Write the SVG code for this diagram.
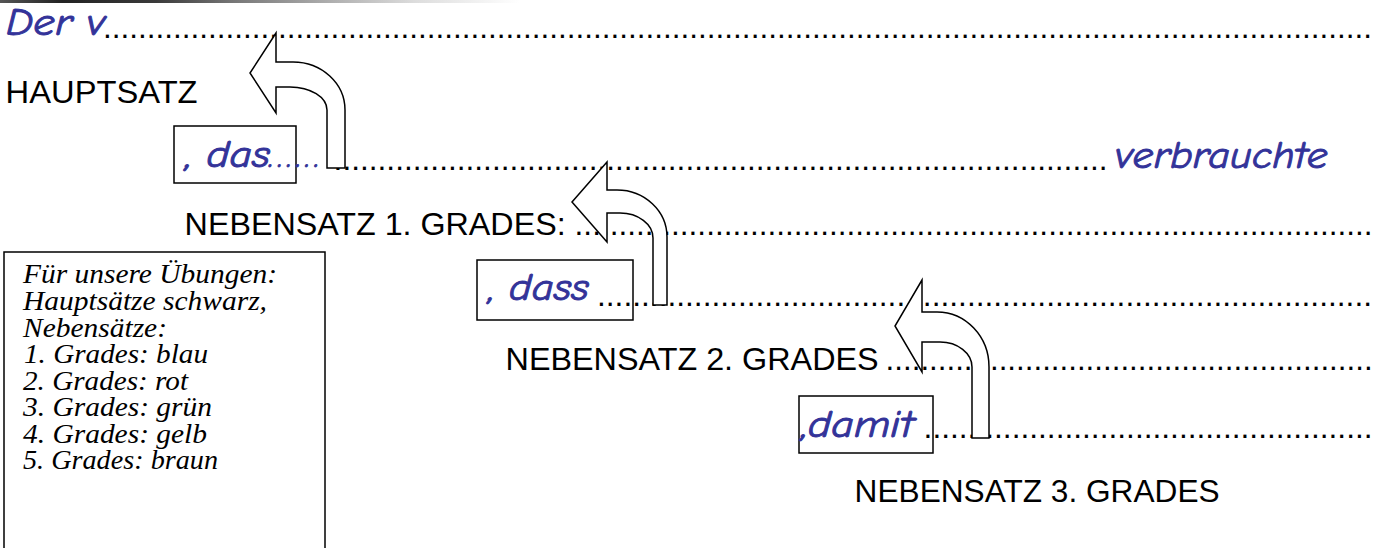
<svg xmlns="http://www.w3.org/2000/svg" width="1383" height="548" viewBox="0 0 1383 548">
<style>
.blue{font-family:"Comic Sans MS","Comic Neue","DejaVu Sans",sans-serif;font-style:italic;font-weight:400;fill:#333399;stroke:#333399;stroke-width:0.9;font-size:38px}
.lbl{font-family:"Liberation Sans",Arial,sans-serif;font-size:31.5px;fill:#000}
.dots{font-family:"Liberation Sans",Arial,sans-serif;font-size:31.5px;fill:#000}
.leg{font-family:"Liberation Serif","Times New Roman",serif;font-style:italic;font-size:26.5px;fill:#000}
.box{fill:none;stroke:#000;stroke-width:1.5}
.arrow{fill:#fff;stroke:#000;stroke-width:1.5;stroke-linejoin:miter}
</style>
<defs>
<linearGradient id="strip" x1="0" y1="0" x2="1" y2="0">
<stop offset="0" stop-color="#555"/>
<stop offset="0.12" stop-color="#222"/>
<stop offset="0.3" stop-color="#3a3a3a"/>
<stop offset="0.45" stop-color="#777"/>
<stop offset="0.62" stop-color="#aaa"/>
<stop offset="0.8" stop-color="#ddd"/>
<stop offset="1" stop-color="#fff"/>
</linearGradient>
</defs>
<rect x="0" y="0" width="1383" height="548" fill="#fff"/>
<rect x="0" y="0" width="520" height="3" fill="url(#strip)"/>

<g id="dotlines">
<text class="dots" x="103" y="37.5" textLength="1269" lengthAdjust="spacingAndGlyphs">.................................................................................................................................................</text>
<text class="dots" x="333.6" y="169.5" textLength="774" lengthAdjust="spacingAndGlyphs">........................................................................................</text>
<text class="dots" x="574.6" y="234.5" textLength="798" lengthAdjust="spacingAndGlyphs">...........................................................................................</text>
<text class="dots" x="597" y="305.5" textLength="775" lengthAdjust="spacingAndGlyphs">........................................................................................</text>
<text class="dots" x="885.6" y="369.5" textLength="487" lengthAdjust="spacingAndGlyphs">........................................................</text>
<text class="dots" x="923.6" y="437.5" textLength="449" lengthAdjust="spacingAndGlyphs">...................................................</text>
</g>

<g id="main-clause">
<text class="blue" x="6" y="35" textLength="99" lengthAdjust="spacingAndGlyphs">Der v</text>
<text class="lbl" x="5.6" y="103" textLength="192" lengthAdjust="spacingAndGlyphs">HAUPTSATZ</text>
</g>

<g id="clause1">
<rect class="box" x="174" y="126" width="122" height="57"/>
<text class="blue" x="185" y="167" textLength="85" lengthAdjust="spacingAndGlyphs">, das</text>
<text class="blue" x="269" y="167" textLength="50" lengthAdjust="spacing" style="font-size:30px">......</text>
<text class="blue" x="1115" y="168" textLength="213" lengthAdjust="spacingAndGlyphs">verbrauchte</text>
<text class="lbl" x="184.6" y="235" textLength="381" lengthAdjust="spacingAndGlyphs">NEBENSATZ 1. GRADES:</text>
</g>

<g id="clause2">
<rect class="box" x="477" y="260" width="156" height="60"/>
<text class="blue" x="488" y="300" textLength="101" lengthAdjust="spacingAndGlyphs">, dass</text>
<text class="lbl" x="505.6" y="370" textLength="373" lengthAdjust="spacingAndGlyphs">NEBENSATZ 2. GRADES</text>
</g>

<g id="clause3">
<rect class="box" x="799" y="396" width="134" height="57"/>
<text class="blue" x="801" y="437" textLength="113" lengthAdjust="spacingAndGlyphs">,damit</text>
<text class="lbl" x="854.6" y="502" textLength="365" lengthAdjust="spacingAndGlyphs">NEBENSATZ 3. GRADES</text>
</g>

<g id="legend">
<rect class="box" x="4" y="252" width="321" height="310"/>
<text class="leg" x="23" y="283" textLength="254" lengthAdjust="spacingAndGlyphs">Für unsere Übungen:</text>
<text class="leg" x="23" y="310" textLength="244" lengthAdjust="spacingAndGlyphs">Hauptsätze schwarz,</text>
<text class="leg" x="23" y="337" textLength="144" lengthAdjust="spacingAndGlyphs">Nebensätze:</text>
<text class="leg" x="24" y="363" textLength="184" lengthAdjust="spacingAndGlyphs">1. Grades: blau</text>
<text class="leg" x="23" y="390" textLength="165" lengthAdjust="spacingAndGlyphs">2. Grades: rot</text>
<text class="leg" x="23" y="416" textLength="189" lengthAdjust="spacingAndGlyphs">3. Grades: grün</text>
<text class="leg" x="23" y="443" textLength="184" lengthAdjust="spacingAndGlyphs">4. Grades: gelb</text>
<text class="leg" x="23" y="469" textLength="195" lengthAdjust="spacingAndGlyphs">5. Grades: braun</text>
</g>

<g id="connectors">
<path class="arrow" d="M276,33 L250,73 L276,113 L276,87 L290,87 A37,23 0 0 1 327,110 L327,168 L345,168 L345,110 A52,48 0 0 0 293,62 L276,62 Z"/>
<path class="arrow" d="M607,162 L572,202 L607,242 L607,213 L620,213 A33,25 0 0 1 653,238 L653,305 L667,305 L667,237 A50,47 0 0 0 617,190 L607,190 Z"/>
<path class="arrow" d="M922,280 L895,326 L922,372 L922,342 L940,342 A32,25 0 0 1 972,367 L972,438 L989,438 L989,367 A52,55 0 0 0 937,312 L922,312 Z"/>
</g>
</svg>
